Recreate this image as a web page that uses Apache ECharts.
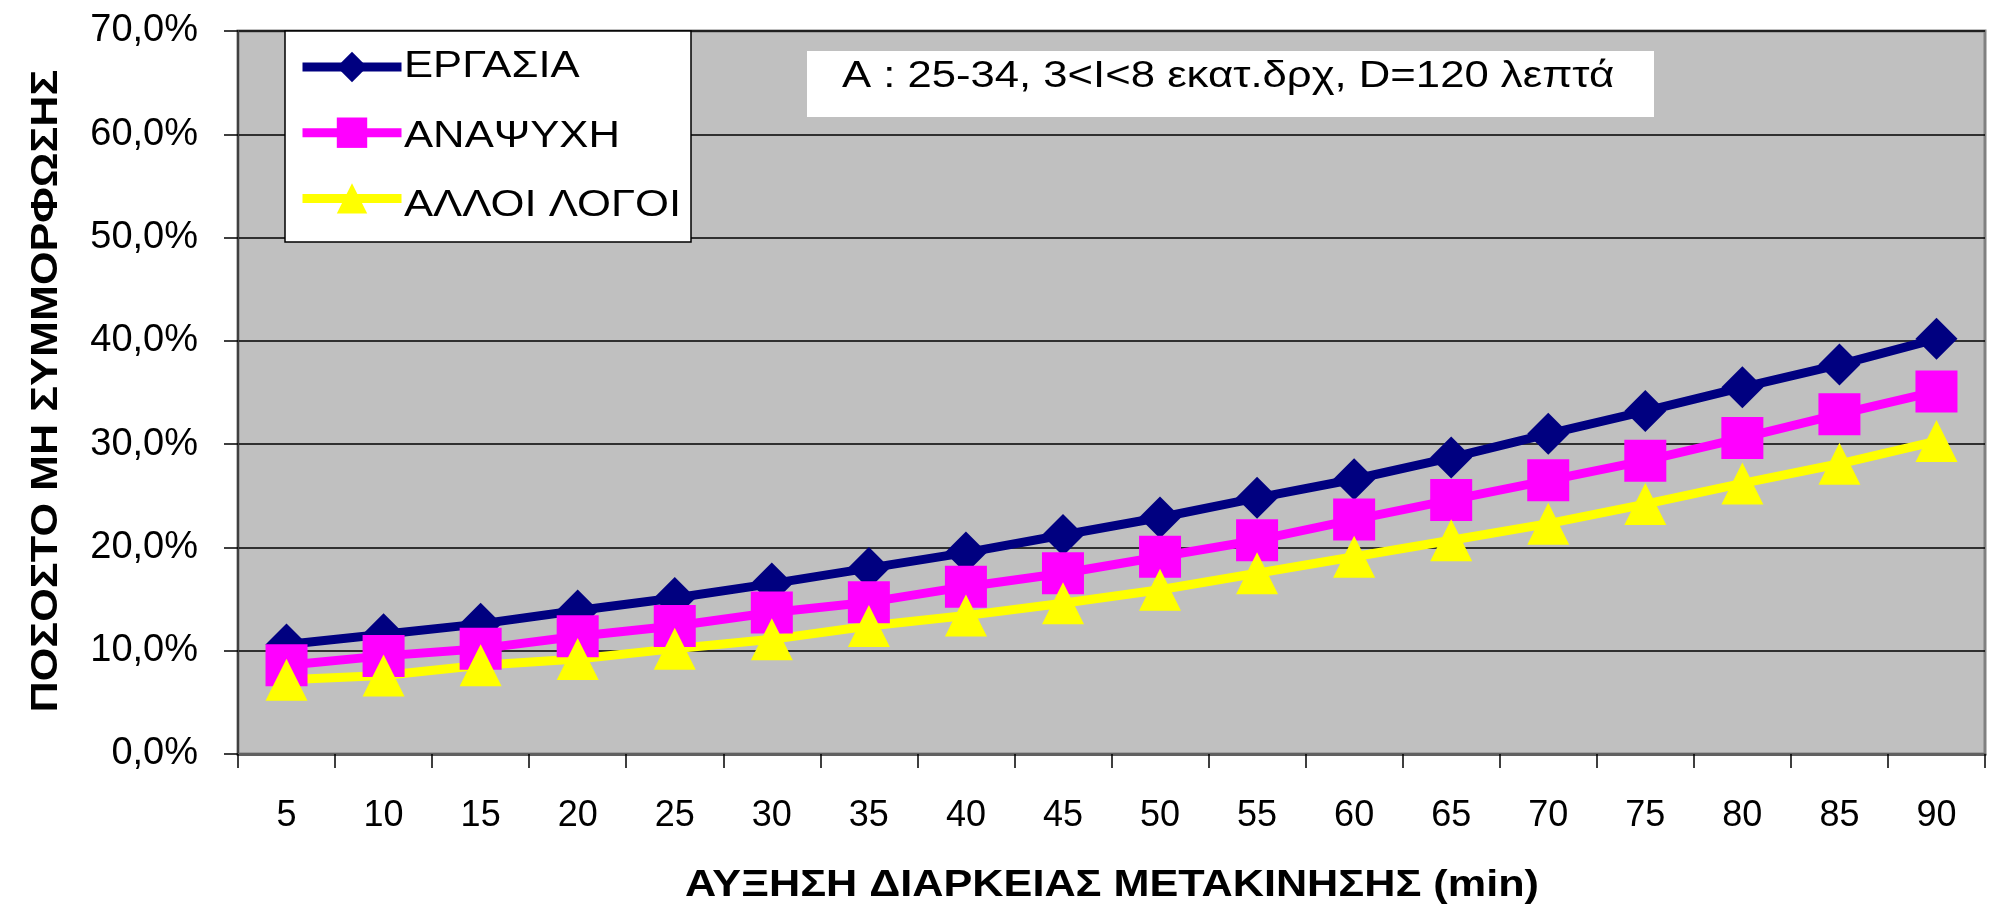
<!DOCTYPE html>
<html>
<head>
<meta charset="utf-8">
<title>ΠΟΣΟΣΤΟ ΜΗ ΣΥΜΜΟΡΦΩΣΗΣ</title>
<script src="https://cdn.jsdelivr.net/npm/echarts@6/dist/echarts.min.js"></script>
<style>
  html, body { margin: 0; padding: 0; background: #fff; }
  #chart { width: 1993px; height: 910px; }
</style>
</head>
<body>
<div id="chart"></div>
<script>
// categories: increase of travel duration (min)
const categories = ['5', '10', '15', '20', '25', '30', '35', '40', '45', '50', '55', '60', '65', '70', '75', '80', '85', '90']

// values in %
const ergasia = [10.6, 11.6, 12.6, 13.9, 15.1, 16.5, 18.0, 19.5, 21.2, 22.9, 24.8, 26.6, 28.7, 31.0, 33.2, 35.5, 37.7, 40.2]
const anapsyxi = [8.6, 9.5, 10.2, 11.4, 12.4, 13.7, 14.7, 16.2, 17.5, 19.1, 20.7, 22.7, 24.6, 26.5, 28.4, 30.6, 32.9, 35.1]
const alloi = [7.2, 7.6, 8.6, 9.2, 10.2, 11.1, 12.4, 13.4, 14.6, 15.9, 17.5, 19.1, 20.7, 22.3, 24.2, 26.2, 28.1, 30.3]

const seriesNames = ['ΕΡΓΑΣΙΑ', 'ΑΝΑΨΥΧΗ', 'ΑΛΛΟΙ ΛΟΓΟΙ']
const colorList = ['#000080', '#FF00FF', '#FFFF00']
const symbols = ['diamond', 'rect', 'triangle']

const FONT = 'Arial, "Liberation Sans", sans-serif'
// the original text is drawn a bit wider than Arial, stretch it
const STRETCH = 1.18

const chart = echarts.init(document.getElementById('chart'))

const seriesData = [ergasia, anapsyxi, alloi].map((values, i) => ({
  name: seriesNames[i],
  type: 'line',
  data: values,
  symbol: symbols[i],
  symbolSize: 42,
  lineStyle: {
    color: colorList[i],
    width: 9
  },
  itemStyle: {
    color: colorList[i]
  }
}))

// legend labels are drawn as graphic text so they can be stretched
const legendLabels = seriesNames.map((name, i) => ({
  type: 'text',
  z: 12,
  x: 404,
  y: 67 + i * 69.5,
  scaleX: STRETCH,
  style: {
    text: name,
    font: '37px ' + FONT,
    fill: '#000',
    align: 'left',
    verticalAlign: 'middle'
  }
}))

chart.setOption({
  animation: false,
  color: colorList,
  grid: {
    left: 238,
    right: 8,
    top: 31,
    bottom: 156,
    show: true,
    backgroundColor: '#C0C0C0',
    borderColor: '#808080',
    borderWidth: 3
  },
  legend: {
    data: seriesNames,
    orient: 'vertical',
    left: 298,
    top: 48,
    padding: 0,
    itemWidth: 99,
    itemHeight: 38,
    itemGap: 31.5,
    selectedMode: false,
    z: 11,
    formatter: () => '',
    lineStyle: { width: 9 },
    textStyle: {
      color: '#000',
      fontSize: 37,
      fontFamily: FONT
    }
  },
  graphic: [
    {
      type: 'rect',
      z: 10,
      shape: { x: 285, y: 31, width: 406, height: 211 },
      style: { fill: '#fff', stroke: '#000', lineWidth: 1.5 }
    },
    {
      type: 'rect',
      z: 10,
      shape: { x: 807, y: 51, width: 847, height: 66 },
      style: { fill: '#fff' }
    },
    {
      type: 'text',
      z: 11,
      x: 1228,
      y: 77,
      scaleX: STRETCH,
      style: {
        text: 'A : 25-34, 3<I<8 εκατ.δρχ, D=120 λεπτά',
        font: '37px ' + FONT,
        fill: '#000',
        align: 'center',
        verticalAlign: 'middle'
      }
    },
    {
      type: 'text',
      z: 11,
      x: 47,
      y: 391,
      rotation: Math.PI / 2,
      scaleX: 1.2,
      style: {
        text: 'ΠΟΣΟΣΤΟ ΜΗ ΣΥΜΜΟΡΦΩΣΗΣ',
        font: 'bold 36px ' + FONT,
        fill: '#000',
        align: 'center',
        verticalAlign: 'middle'
      }
    },
    {
      type: 'text',
      z: 11,
      x: 1112,
      y: 886,
      scaleX: 1.2,
      style: {
        text: 'ΑΥΞΗΣΗ ΔΙΑΡΚΕΙΑΣ ΜΕΤΑΚΙΝΗΣΗΣ (min)',
        font: 'bold 36px ' + FONT,
        fill: '#000',
        align: 'center',
        verticalAlign: 'middle'
      }
    }
  ].concat(legendLabels),
  xAxis: {
    type: 'category',
    data: categories,
    boundaryGap: true,
    axisLine: {
      lineStyle: { color: '#606060', width: 3 }
    },
    axisTick: {
      show: true,
      length: 14,
      lineStyle: { color: '#000', width: 1.5 }
    },
    axisLabel: {
      margin: 44,
      color: '#000',
      fontSize: 36,
      fontFamily: FONT,
      interval: 0
    },
    splitLine: { show: false }
  },
  yAxis: {
    type: 'value',
    min: 0,
    max: 70,
    interval: 10,
    axisLine: {
      show: true,
      lineStyle: { color: '#404040', width: 2 }
    },
    axisTick: {
      show: true,
      length: 14,
      lineStyle: { color: '#000', width: 1.5 }
    },
    axisLabel: {
      margin: 40,
      color: '#000',
      fontSize: 38,
      fontFamily: FONT,
      formatter: v => v.toFixed(1).replace('.', ',') + '%'
    },
    splitLine: {
      lineStyle: { color: '#000', width: 1.5 }
    }
  },
  series: seriesData
})
</script>
</body>
</html>
